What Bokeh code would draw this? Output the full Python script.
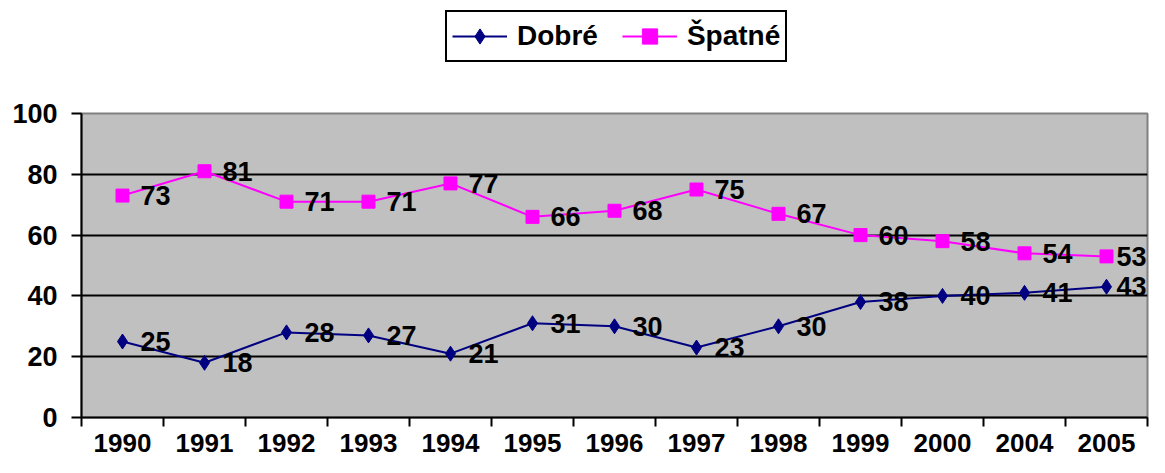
from bokeh.plotting import figure
from bokeh.layouts import column
from bokeh.models import FixedTicker, Legend, LegendItem, ColumnDataSource
from bokeh.core.properties import value
from bokeh.embed import file_html
from bokeh.resources import INLINE

years = ["1990", "1991", "1992", "1993", "1994", "1995", "1996", "1997",
         "1998", "1999", "2000", "2004", "2005"]
dobre = [25, 18, 28, 27, 21, 31, 30, 23, 30, 38, 40, 41, 43]
spatne = [73, 81, 71, 71, 77, 66, 68, 75, 67, 60, 58, 54, 53]
y_ticks = [0, 20, 40, 60, 80, 100]

FONT = "Liberation Sans"
NAVY = "#000080"
MAGENTA = "#FF00FF"
n = len(years)
xs = [i + 0.5 for i in range(n)]
# label offsets (style): the last labels are pulled in so they stay inside the frame
offs = [18] * (n - 1) + [10]

src = ColumnDataSource(dict(x=xs, d=dobre, s=spatne,
                            dl=[str(v) for v in dobre],
                            sl=[str(v) for v in spatne],
                            off=offs))

# ---------------- legend strip ----------------
LEG_H = 70
lg = figure(width=1149, height=LEG_H, x_range=(1000, 1001), y_range=(1000, 1001),
            output_backend="svg", toolbar_location=None,
            x_axis_location=None, y_axis_location=None,
            min_border_left=0, min_border_right=0, min_border_top=0,
            min_border_bottom=0)
lg.outline_line_color = None
lg.background_fill_color = "white"
lg.border_fill_color = "white"
lg.xgrid.grid_line_color = None
lg.ygrid.grid_line_color = None
gl1 = lg.line("x", "d", source=src, line_color=NAVY, line_width=2)
gm1 = lg.scatter("x", "d", source=src, marker="diamond", size=15,
                 fill_color=NAVY, line_color=NAVY)
gl2 = lg.line("x", "s", source=src, line_color=MAGENTA, line_width=2)
gm2 = lg.scatter("x", "s", source=src, marker="square", size=13,
                 fill_color=MAGENTA, line_color=MAGENTA)

# legend frame is aligned with the chart frame (left edge at x = 81)
legend = Legend(items=[LegendItem(label="Dobré", renderers=[gl1, gm1]),
                       LegendItem(label="Špatné", renderers=[gl2, gm2])],
                orientation="horizontal", location=(364, LEG_H - 62))
legend.border_line_color = "black"
legend.border_line_width = 2
legend.border_line_alpha = 1
legend.background_fill_color = "white"
legend.background_fill_alpha = 1
legend.label_text_font = FONT
legend.label_text_font_style = "bold"
legend.label_text_font_size = "28px"
legend.label_text_color = "black"
legend.glyph_width = 55
legend.glyph_height = 38
legend.label_height = 38
legend.label_standoff = 10
legend.spacing = 24
legend.padding = 5
legend.margin = 0
lg.add_layout(legend, "center")

# ---------------- main chart ----------------
P_H = 457 - LEG_H
p = figure(width=1149, height=P_H, x_range=(0, n), y_range=(0, 100),
           output_backend="svg", toolbar_location=None,
           min_border_left=81, min_border_right=2, min_border_top=113 - LEG_H,
           min_border_bottom=P_H - (417 - LEG_H))
p.background_fill_color = "#C0C0C0"
p.border_fill_color = "white"
p.outline_line_color = "#808080"
p.outline_line_width = 2

p.xgrid.grid_line_color = None
p.ygrid.grid_line_color = "black"
p.ygrid.grid_line_width = 2

# x axis: labels at category centres, ticks at category boundaries
p.xaxis.ticker = FixedTicker(ticks=xs, minor_ticks=list(range(n + 1)))
p.xaxis.major_label_overrides = {x: y for x, y in zip(xs, years)}
p.xaxis.major_tick_out = 0
p.xaxis.major_tick_in = 0
p.xaxis.minor_tick_out = 9
p.xaxis.minor_tick_in = 0
p.xaxis.minor_tick_line_color = "black"
p.xaxis.minor_tick_line_width = 2
p.xaxis.axis_line_width = 2
p.xaxis.axis_line_color = "black"
p.xaxis.major_label_standoff = 7
p.xaxis.major_label_text_font = FONT
p.xaxis.major_label_text_font_style = "bold"
p.xaxis.major_label_text_font_size = "26px"
p.xaxis.major_label_text_color = "black"

# y axis
p.yaxis.ticker = FixedTicker(ticks=y_ticks)
p.yaxis.major_tick_out = 10
p.yaxis.major_tick_in = 0
p.yaxis.minor_tick_out = 0
p.yaxis.minor_tick_in = 0
p.yaxis.major_tick_line_width = 2
p.yaxis.axis_line_width = 2
p.yaxis.axis_line_color = "black"
p.yaxis.major_label_standoff = 14
p.yaxis.major_label_text_font = FONT
p.yaxis.major_label_text_font_style = "bold"
p.yaxis.major_label_text_font_size = "27px"
p.yaxis.major_label_text_color = "black"

p.line("x", "d", source=src, line_color=NAVY, line_width=2)
p.scatter("x", "d", source=src, marker="diamond", size=15,
          fill_color=NAVY, line_color=NAVY)
p.line("x", "s", source=src, line_color=MAGENTA, line_width=2)
p.scatter("x", "s", source=src, marker="square", size=13,
          fill_color=MAGENTA, line_color=MAGENTA)

for col, ycol in (("dl", "d"), ("sl", "s")):
    p.text("x", ycol, text=col, source=src, x_offset="off",
           text_align="left", text_baseline="middle",
           text_font=value(FONT), text_font_style="bold",
           text_font_size="27px", text_color="black")

layout = column(lg, p, spacing=0)
open("out.html", "w").write(file_html(layout, INLINE))
